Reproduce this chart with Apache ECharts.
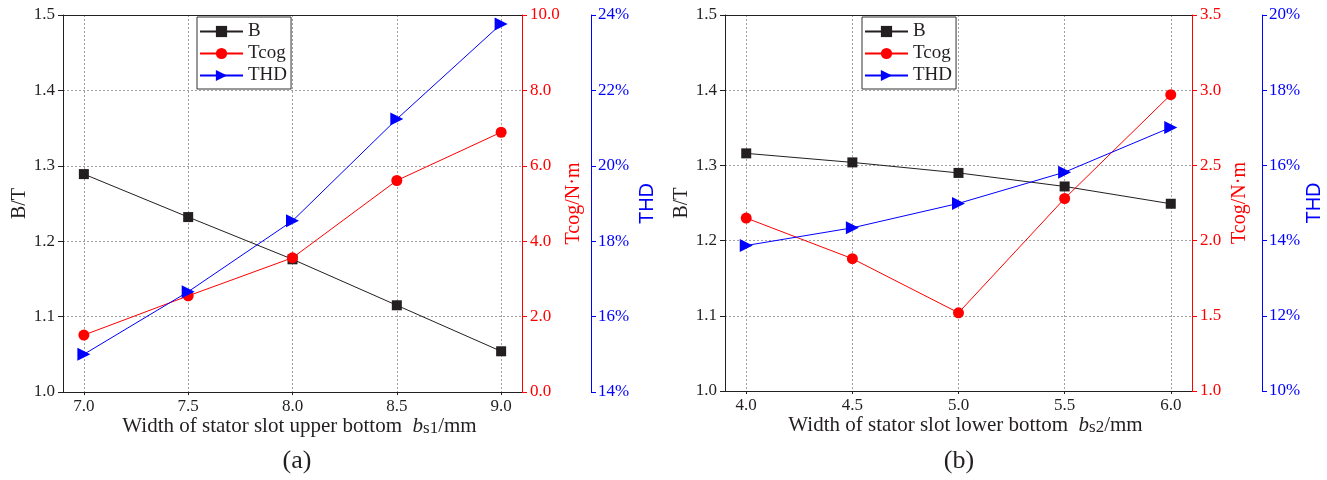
<!DOCTYPE html>
<html>
<head>
<meta charset="utf-8">
<title>Slot width study</title>
<script src="https://cdn.jsdelivr.net/npm/echarts@6/dist/echarts.min.js"></script>
<style>
  html, body { margin: 0; padding: 0; background: #fff; }
  #chart { width: 1327px; height: 480px; }
</style>
</head>
<body>
<div id="chart"></div>
<script>
// (a) upper slot bottom width bs1 sweep
const widthA = [7.0, 7.5, 8.0, 8.5, 9.0];
const bA = [1.289, 1.232, 1.176, 1.115, 1.054];
const tcogA = [1.51, 2.55, 3.56, 5.61, 6.89];
const thdA = [15.0, 16.66, 18.54, 21.24, 23.76];

// (b) lower slot bottom width bs2 sweep
const widthB = [4.0, 4.5, 5.0, 5.5, 6.0];
const bB = [1.316, 1.304, 1.290, 1.272, 1.249];
const tcogB = [2.15, 1.88, 1.52, 2.28, 2.97];
const thdB = [13.87, 14.34, 14.99, 15.82, 17.01];

const seriesNames = ['B', 'Tcog', 'THD'];

const SERIF = '"Liberation Serif", "Times New Roman", serif';
const SANS = '"Liberation Sans", Arial, sans-serif';
const INK = '#231f20';
const RED = '#ff0000';
const BLUE = '#0000ff';
const GRID_LINE = { show: true, lineStyle: { color: '#a0a0a0', type: [2, 2], width: 1 } };

const zip = (xs, ys) => xs.map((x, i) => [x, ys[i]]);

function bottomAxis(gridIndex, xs, min, max, title) {
  return {
    type: 'value', gridIndex, position: 'bottom', min, max,
    axisLine: { lineStyle: { color: INK, width: 1 } },
    axisTick: { show: true, length: 3, customValues: xs, lineStyle: { color: INK } },
    axisLabel: {
      customValues: xs, margin: 6, color: INK, fontFamily: SERIF, fontSize: 17,
      formatter: v => v.toFixed(1)
    },
    splitLine: GRID_LINE,
    name: title, nameLocation: 'middle', nameGap: 21, nameMoveOverlap: false,
    nameTextStyle: {
      padding: [0, 0, 0, 14],
      rich: {
        n: { fontFamily: SERIF, fontSize: 21, color: INK, verticalAlign: 'bottom', lineHeight: 24 },
        i: { fontFamily: SERIF, fontSize: 21, fontStyle: 'italic', color: INK, verticalAlign: 'bottom', lineHeight: 24 },
        s: { fontFamily: SERIF, fontSize: 17, color: INK, verticalAlign: 'bottom', lineHeight: 4 }
      }
    }
  };
}

function topAxis(gridIndex, min, max) {
  return {
    type: 'value', gridIndex, position: 'top', min, max,
    axisLine: { lineStyle: { color: INK, width: 1 } },
    axisTick: { show: false }, axisLabel: { show: false }, splitLine: { show: false }
  };
}

function leftAxis(gridIndex, gap) {
  return {
    type: 'value', gridIndex, position: 'left', min: 1.0, max: 1.5, interval: 0.1,
    axisLine: { show: true, lineStyle: { color: INK, width: 1 } },
    axisTick: { show: true, length: 5, lineStyle: { color: INK } },
    axisLabel: { margin: 8, color: INK, fontFamily: SERIF, fontSize: 17, formatter: v => v.toFixed(1) },
    splitLine: GRID_LINE,
    name: 'B/T', nameLocation: 'middle', nameGap: gap,
    nameTextStyle: { fontFamily: SERIF, fontSize: 20, color: INK }
  };
}

function tcogAxis(gridIndex, min, max, interval, gap) {
  return {
    type: 'value', gridIndex, position: 'right', offset: 0, min, max, interval,
    axisLine: { show: true, lineStyle: { color: RED, width: 1 } },
    axisTick: { show: true, length: 5, lineStyle: { color: RED } },
    axisLabel: { margin: 8, color: RED, fontFamily: SERIF, fontSize: 17, formatter: v => v.toFixed(1) },
    splitLine: { show: false },
    name: 'Tcog/N·m', nameLocation: 'middle', nameGap: gap,
    nameTextStyle: { fontFamily: SERIF, fontSize: 20, color: RED }
  };
}

function thdAxis(gridIndex, min, max, offset, gap) {
  return {
    type: 'value', gridIndex, position: 'right', offset, min, max, interval: 2,
    axisLine: { show: true, lineStyle: { color: BLUE, width: 1 } },
    axisTick: { show: true, length: 5, lineStyle: { color: BLUE } },
    axisLabel: { margin: 7, color: BLUE, fontFamily: SERIF, fontSize: 17, formatter: v => v + '%' },
    splitLine: { show: false },
    name: 'THD', nameLocation: 'middle', nameGap: gap,
    nameTextStyle: { fontFamily: SANS, fontSize: 20, color: BLUE }
  };
}

function lineSeries(name, xIdx, yIdx, data, color, symbol, size, rotate) {
  return {
    name, type: 'line', xAxisIndex: xIdx, yAxisIndex: yIdx, data,
    symbol, symbolSize: size, symbolRotate: rotate || 0, showSymbol: true,
    lineStyle: { color, width: 1 },
    itemStyle: { color, borderWidth: 0 },
    emphasis: { disabled: true }, animation: false
  };
}

function legendAt(left) {
  return {
    data: seriesNames, orient: 'vertical', left, top: 17,
    itemWidth: 43, itemHeight: 14, itemGap: 3,
    padding: [5, 4, 4, 2],
    borderColor: '#333', borderWidth: 1, backgroundColor: '#fff',
    textStyle: { fontFamily: SERIF, fontSize: 19, color: INK },
    selectedMode: false
  };
}

const chart = echarts.init(document.getElementById('chart'), null, { renderer: 'canvas' });

chart.setOption({
  animation: false,
  backgroundColor: '#fff',
  grid: [
    { left: 63, top: 15, width: 459, height: 377 },
    { left: 725, top: 15, width: 467, height: 376 }
  ],
  legend: [legendAt(197), legendAt(862)],
  xAxis: [
    bottomAxis(0, widthA, 6.9, 9.1, '{n|Width of stator slot upper bottom  }{i|b}{s|s1}{n|/mm}'),
    topAxis(0, 6.9, 9.1),
    bottomAxis(1, widthB, 3.9, 6.1, '{n|Width of stator slot lower bottom  }{i|b}{s|s2}{n|/mm}'),
    topAxis(1, 3.9, 6.1)
  ],
  yAxis: [
    leftAxis(0, 33),
    tcogAxis(0, 0, 10, 2, 39),
    thdAxis(0, 14, 24, 69, 46),
    leftAxis(1, 25),
    tcogAxis(1, 1.0, 3.5, 0.5, 38),
    thdAxis(1, 10, 20, 70, 41)
  ],
  series: [
    lineSeries('B', 0, 0, zip(widthA, bA), INK, 'rect', 10),
    lineSeries('Tcog', 0, 1, zip(widthA, tcogA), RED, 'circle', 11),
    lineSeries('THD', 0, 2, zip(widthA, thdA), BLUE, 'triangle', 13, -90),
    lineSeries('B', 2, 3, zip(widthB, bB), INK, 'rect', 10),
    lineSeries('Tcog', 2, 4, zip(widthB, tcogB), RED, 'circle', 11),
    lineSeries('THD', 2, 5, zip(widthB, thdB), BLUE, 'triangle', 13, -90)
  ],
  graphic: [
    { type: 'text', x: 297, y: 461, style: { text: '(a)', align: 'center', verticalAlign: 'middle', font: '26px ' + SERIF, fill: INK } },
    { type: 'text', x: 959, y: 461, style: { text: '(b)', align: 'center', verticalAlign: 'middle', font: '26px ' + SERIF, fill: INK } }
  ]
});
</script>
</body>
</html>
